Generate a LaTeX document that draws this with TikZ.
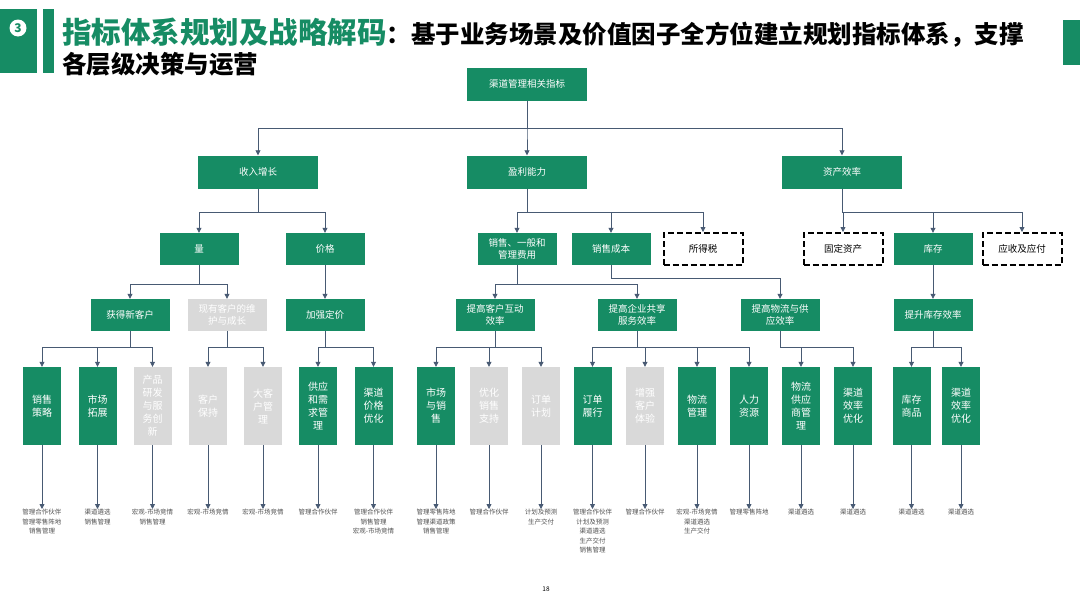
\documentclass[tikz,border=0pt]{standalone}
\usepackage{fontspec}
\setmainfont{Noto Sans CJK SC}
\usetikzlibrary{positioning,arrows.meta}
\definecolor{chGreen}{RGB}{22,140,100}
\definecolor{chGrey}{RGB}{217,217,217}
\definecolor{linkCol}{RGB}{72,90,115}
\definecolor{noteText}{RGB}{80,80,80}

\begin{document}
\begin{tikzpicture}[x=1pt,y=1pt,
  box/.style={fill=chGreen,text=white,minimum width=79pt,minimum height=32pt,
              inner sep=1pt,align=center,font=\fontsize{9.5}{12}\selectfont},
  topbox/.style={box,minimum width=120pt,minimum height=33pt},
  greybox/.style={box,fill=chGrey},
  dashbox/.style={box,fill=white,text=black,draw=black,line width=2pt,
                  dash pattern=on 6pt off 3pt},
  leaf/.style={box,minimum width=38pt,minimum height=78pt,
               font=\fontsize{10}{13}\selectfont},
  greyleaf/.style={leaf,fill=chGrey},
  note/.style={anchor=north,align=center,inner sep=0pt,text=noteText,
               font=\fontsize{6.5}{9.5}\selectfont},
  arr/.style={draw=linkCol,line width=0.8pt,-{Triangle[length=5pt,width=5pt]}}
]
\useasboundingbox (0,0) rectangle (1080,-608);

% ---- title band ----
\fill[chGreen] (0,-9) rectangle (37,-73);
\node[circle,fill=white,inner sep=0pt,minimum size=17pt,text=chGreen,
      font=\bfseries\fontsize{12}{12}\selectfont] (badge) at (18,-28) {3};
\fill[chGreen] (43,-9) rectangle (54,-73);
\fill[chGreen] (1063,-20) rectangle (1080,-65);
\node[anchor=base west,inner sep=0pt] (title1) at (62,-43)
  {\textcolor{chGreen}{\fontsize{29.5}{32}\selectfont\bfseries 指标体系规划及战略解码}%
   {\fontsize{24.5}{28}\selectfont\bfseries ：基于业务场景及价值因子全方位建立规划指标体系，支撑}};
\node[anchor=base west,inner sep=0pt] (title2) at (62,-73)
  {\fontsize{24.5}{28}\selectfont\bfseries 各层级决策与运营};

% ---- root and first level ----
\node[topbox] (root)   at (527,-84)  {渠道管理相关指标};
\node[topbox] (income) at (258,-172) {收入增长};
\node[topbox] (profit) at (527,-172) {盈利能力};
\node[topbox] (assets) at (842,-172) {资产效率};

% ---- second level ----
\node[box]     (volume) at (199,-249)  {量};
\node[box]     (price)  at (325,-249)  {价格};
\node[box]     (sga)    at (517,-249)  {销售、一般和\\管理费用};
\node[box]     (cogs)   at (611,-249)  {销售成本};
\node[dashbox] (tax)    at (703,-249)  {所得税};
\node[dashbox] (fixed)  at (843,-249)  {固定资产};
\node[box]     (stock)  at (933,-249)  {库存};
\node[dashbox] (arap)   at (1022,-249) {应收及应付};

% ---- third level ----
\node[box]     (newcust)  at (130,-315) {获得新客户};
\node[greybox] (keepcust) at (227,-315) {现有客户的维\\护与成长};
\node[box]     (pricing)  at (325,-315) {加强定价};
\node[box]     (interact) at (495,-315) {提高客户互动\\效率};
\node[box]     (shared)   at (637,-315) {提高企业共享\\服务效率};
\node[box]     (logist)   at (780,-315) {提高物流与供\\应效率};
\node[box]     (stockeff) at (933,-315) {提升库存效率};

% ---- leaves ----
\node[leaf]     (lf1)  at (42,-406)    {销售\\策略};
\node[leaf]     (lf2)  at (97.5,-406)  {市场\\拓展};
\node[greyleaf] (lf3)  at (152.5,-406) {产品\\研发\\与服\\务创\\新};
\node[greyleaf] (lf4)  at (208,-406)   {客户\\保持};
\node[greyleaf] (lf5)  at (263,-406)   {大客\\户管\\理};
\node[leaf]     (lf6)  at (318,-406)   {供应\\和需\\求管\\理};
\node[leaf]     (lf7)  at (373.5,-406) {渠道\\价格\\优化};
\node[leaf]     (lf8)  at (436,-406)   {市场\\与销\\售};
\node[greyleaf] (lf9)  at (489,-406)   {优化\\销售\\支持};
\node[greyleaf] (lf10) at (541,-406)   {订单\\计划};
\node[leaf]     (lf11) at (592.5,-406) {订单\\履行};
\node[greyleaf] (lf12) at (645,-406)   {增强\\客户\\体验};
\node[leaf]     (lf13) at (697,-406)   {物流\\管理};
\node[leaf]     (lf14) at (749,-406)   {人力\\资源};
\node[leaf]     (lf15) at (801,-406)   {物流\\供应\\商管\\理};
\node[leaf]     (lf16) at (853,-406)   {渠道\\效率\\优化};
\node[leaf]     (lf17) at (911.5,-406) {库存\\商品};
\node[leaf]     (lf18) at (961,-406)   {渠道\\效率\\优化};

% ---- notes under leaves ----
\node[note] (nt1)  at (42,-509)    {管理合作伙伴\\管理零售阵地\\销售管理};
\node[note] (nt2)  at (97.5,-509)  {渠道遴选\\销售管理};
\node[note] (nt3)  at (152.5,-509) {宏观-市场竞情\\销售管理};
\node[note] (nt4)  at (208,-509)   {宏观-市场竞情};
\node[note] (nt5)  at (263,-509)   {宏观-市场竞情};
\node[note] (nt6)  at (318,-509)   {管理合作伙伴};
\node[note] (nt7)  at (373.5,-509) {管理合作伙伴\\销售管理\\宏观-市场竞情};
\node[note] (nt8)  at (436,-509)   {管理零售阵地\\管理渠道政策\\销售管理};
\node[note] (nt9)  at (489,-509)   {管理合作伙伴};
\node[note] (nt10) at (541,-509)   {计划及预测\\生产交付};
\node[note] (nt11) at (592.5,-509) {管理合作伙伴\\计划及预测\\渠道遴选\\生产交付\\销售管理};
\node[note] (nt12) at (645,-509)   {管理合作伙伴};
\node[note] (nt13) at (697,-509)   {宏观-市场竞情\\渠道遴选\\生产交付};
\node[note] (nt14) at (749,-509)   {管理零售阵地};
\node[note] (nt15) at (801,-509)   {渠道遴选};
\node[note] (nt16) at (853,-509)   {渠道遴选};
\node[note] (nt17) at (911.5,-509) {渠道遴选};
\node[note] (nt18) at (961,-509)   {渠道遴选};

\node[font=\fontsize{6.5}{8}\selectfont] (pageno) at (546,-589) {18};

% ---- connectors ----
\foreach \c in {income,profit,assets}
  \draw[arr] (root.south) -- ++(0,-28) -| (\c.north);
\foreach \c in {volume,price}
  \draw[arr] (income.south) -- ++(0,-24) -| (\c.north);
\foreach \c in {sga,cogs,tax}
  \draw[arr] (profit.south) -- ++(0,-24) -| (\c.north);
\foreach \c in {fixed,stock,arap}
  \draw[arr] (assets.south) -- ++(0,-24) -| (\c.north);

\foreach \c in {newcust,keepcust}
  \draw[arr] (volume.south) -- ++(0,-19) -| (\c.north);
\draw[arr] (price) -- (pricing);
\foreach \c in {interact,shared}
  \draw[arr] (sga.south) -- ++(0,-19) -| (\c.north);
\draw[arr] (cogs.south) -- ++(0,-13) -| (logist.north);
\draw[arr] (stock) -- (stockeff);

\foreach \c in {lf1,lf2,lf3}
  \draw[arr] (newcust.south) -- ++(0,-16) -| (\c.north);
\foreach \c in {lf4,lf5}
  \draw[arr] (keepcust.south) -- ++(0,-16) -| (\c.north);
\foreach \c in {lf6,lf7}
  \draw[arr] (pricing.south) -- ++(0,-16) -| (\c.north);
\foreach \c in {lf8,lf9,lf10}
  \draw[arr] (interact.south) -- ++(0,-16) -| (\c.north);
\foreach \c in {lf11,lf12,lf13,lf14}
  \draw[arr] (shared.south) -- ++(0,-16) -| (\c.north);
\foreach \c in {lf15,lf16}
  \draw[arr] (logist.south) -- ++(0,-16) -| (\c.north);
\foreach \c in {lf17,lf18}
  \draw[arr] (stockeff.south) -- ++(0,-16) -| (\c.north);

\foreach \i in {1,...,18}
  \draw[arr] (lf\i.south) -- (nt\i.north);

\end{tikzpicture}
\end{document}
